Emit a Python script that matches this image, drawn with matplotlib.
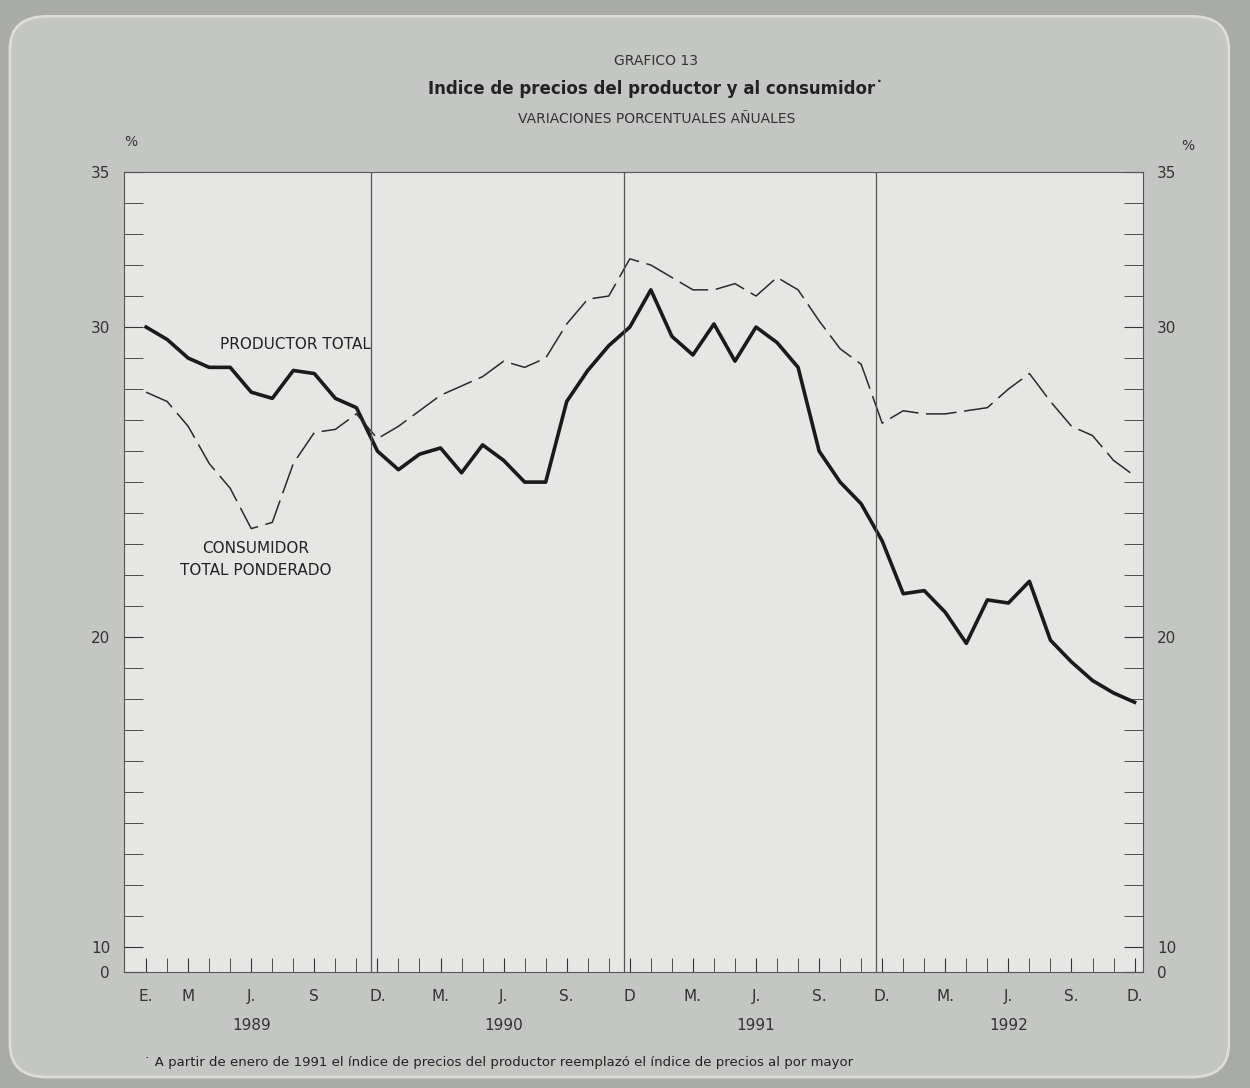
import numpy as np
import matplotlib.pyplot as plt
from matplotlib.patches import FancyBboxPatch

# monthly values, Jan 1989 .. Dec 1992
productor = [30.0, 29.6, 29.0, 28.7, 28.7, 27.9, 27.7, 28.6, 28.5, 27.7, 27.4, 26.0,
             25.4, 25.9, 26.1, 25.3, 26.2, 25.7, 25.0, 25.0, 27.6, 28.6, 29.4, 30.0,
             31.2, 29.7, 29.1, 30.1, 28.9, 30.0, 29.5, 28.7, 26.0, 25.0, 24.3, 23.1,
             21.4, 21.5, 20.8, 19.8, 21.2, 21.1, 21.8, 19.9, 19.2, 18.6, 18.2, 17.9]
consumidor = [27.9, 27.6, 26.8, 25.6, 24.8, 23.5, 23.7, 25.6, 26.6, 26.7, 27.2, 26.4,
              26.8, 27.3, 27.8, 28.1, 28.4, 28.9, 28.7, 29.0, 30.1, 30.9, 31.0, 32.2,
              32.0, 31.6, 31.2, 31.2, 31.4, 31.0, 31.6, 31.2, 30.2, 29.3, 28.8, 26.9,
              27.3, 27.2, 27.2, 27.3, 27.4, 28.0, 28.5, 27.6, 26.8, 26.5, 25.7, 25.2]
month_ticks = [0, 2, 5, 8, 11, 14, 17, 20, 23, 26, 29, 32, 35, 38, 41, 44, 47]
month_labels = ['E.', 'M', 'J.', 'S', 'D.', 'M.', 'J.', 'S.', 'D', 'M.', 'J.', 'S.',
                'D.', 'M.', 'J.', 'S.', 'D.']
years = ['1989', '1990', '1991', '1992']

fig = plt.figure(figsize=(12.5, 10.88), dpi=100)
fig.patch.set_facecolor('#a9aba8')
fig.patches.append(FancyBboxPatch((0.008, 0.01), 0.975, 0.975, boxstyle='round,pad=0,rounding_size=0.03',
                                  transform=fig.transFigure, facecolor='#c4c6c3', edgecolor='#dcdcda',
                                  lw=2, zorder=-5))

ax = fig.add_axes([0.0992, 0.1066, 0.8152, 0.7353])
ax.set_facecolor('#e6e7e4')
x = np.arange(48)
ax.plot(x, productor, color='#1a1a1a', lw=2.6)
ax.plot(x, consumidor, color='#2a2a2a', lw=1.1, dashes=(20, 5))
for v in [10.7, 22.7, 34.7]:
    ax.axvline(v, color='#555', lw=0.9)
ax.set_xlim(-1.05, 47.4)
ax.set_ylim(9.2, 35)
for s in ax.spines.values():
    s.set_color('#555')

ax.set_yticks([9.2, 10, 20, 30, 35])
ax.set_yticklabels(['0', '10', '20', '30', '35'])
ax.set_yticks(np.arange(11, 35, 1), minor=True)
ax.tick_params(axis='y', which='both', direction='in', length=14, labelsize=11, colors='#333',
               right=True, labelright=True, pad=10)
ax.set_xticks(month_ticks)
ax.set_xticklabels(month_labels)
ax.set_xticks(x, minor=True)
ax.tick_params(axis='x', which='both', direction='in', length=10, labelsize=11, colors='#333', pad=12)
for i, yr in enumerate(years):
    ax.text(5 + 12 * i, -0.058, yr, transform=ax.get_xaxis_transform(), ha='center', va='top',
            fontsize=11, color='#333')

ax.text(3.5, 29.3, 'PRODUCTOR TOTAL', fontsize=11, color='#222')
ax.text(5.2, 22.7, 'CONSUMIDOR', fontsize=11, color='#222', ha='center')
ax.text(5.2, 22.0, 'TOTAL PONDERADO', fontsize=11, color='#222', ha='center')

fig.text(0.105, 0.866, '%', fontsize=10, color='#333', ha='center')
fig.text(0.95, 0.862, '%', fontsize=10, color='#333', ha='center')
fig.text(0.525, 0.94, 'GRAFICO 13', fontsize=10, color='#333', ha='center')
fig.text(0.525, 0.914, 'Indice de precios del productor y al consumidor\u02d9', fontsize=12,
         fontweight='bold', color='#222', ha='center')
fig.text(0.525, 0.887, 'VARIACIONES PORCENTUALES AÑUALES', fontsize=10, color='#333', ha='center')
fig.text(0.115, 0.02, '\u02d9 A partir de enero de 1991 el índice de precios del productor reemplazó el índice de precios al por mayor',
         fontsize=9.5, color='#222')

fig.savefig('out.png', facecolor=fig.get_facecolor())
